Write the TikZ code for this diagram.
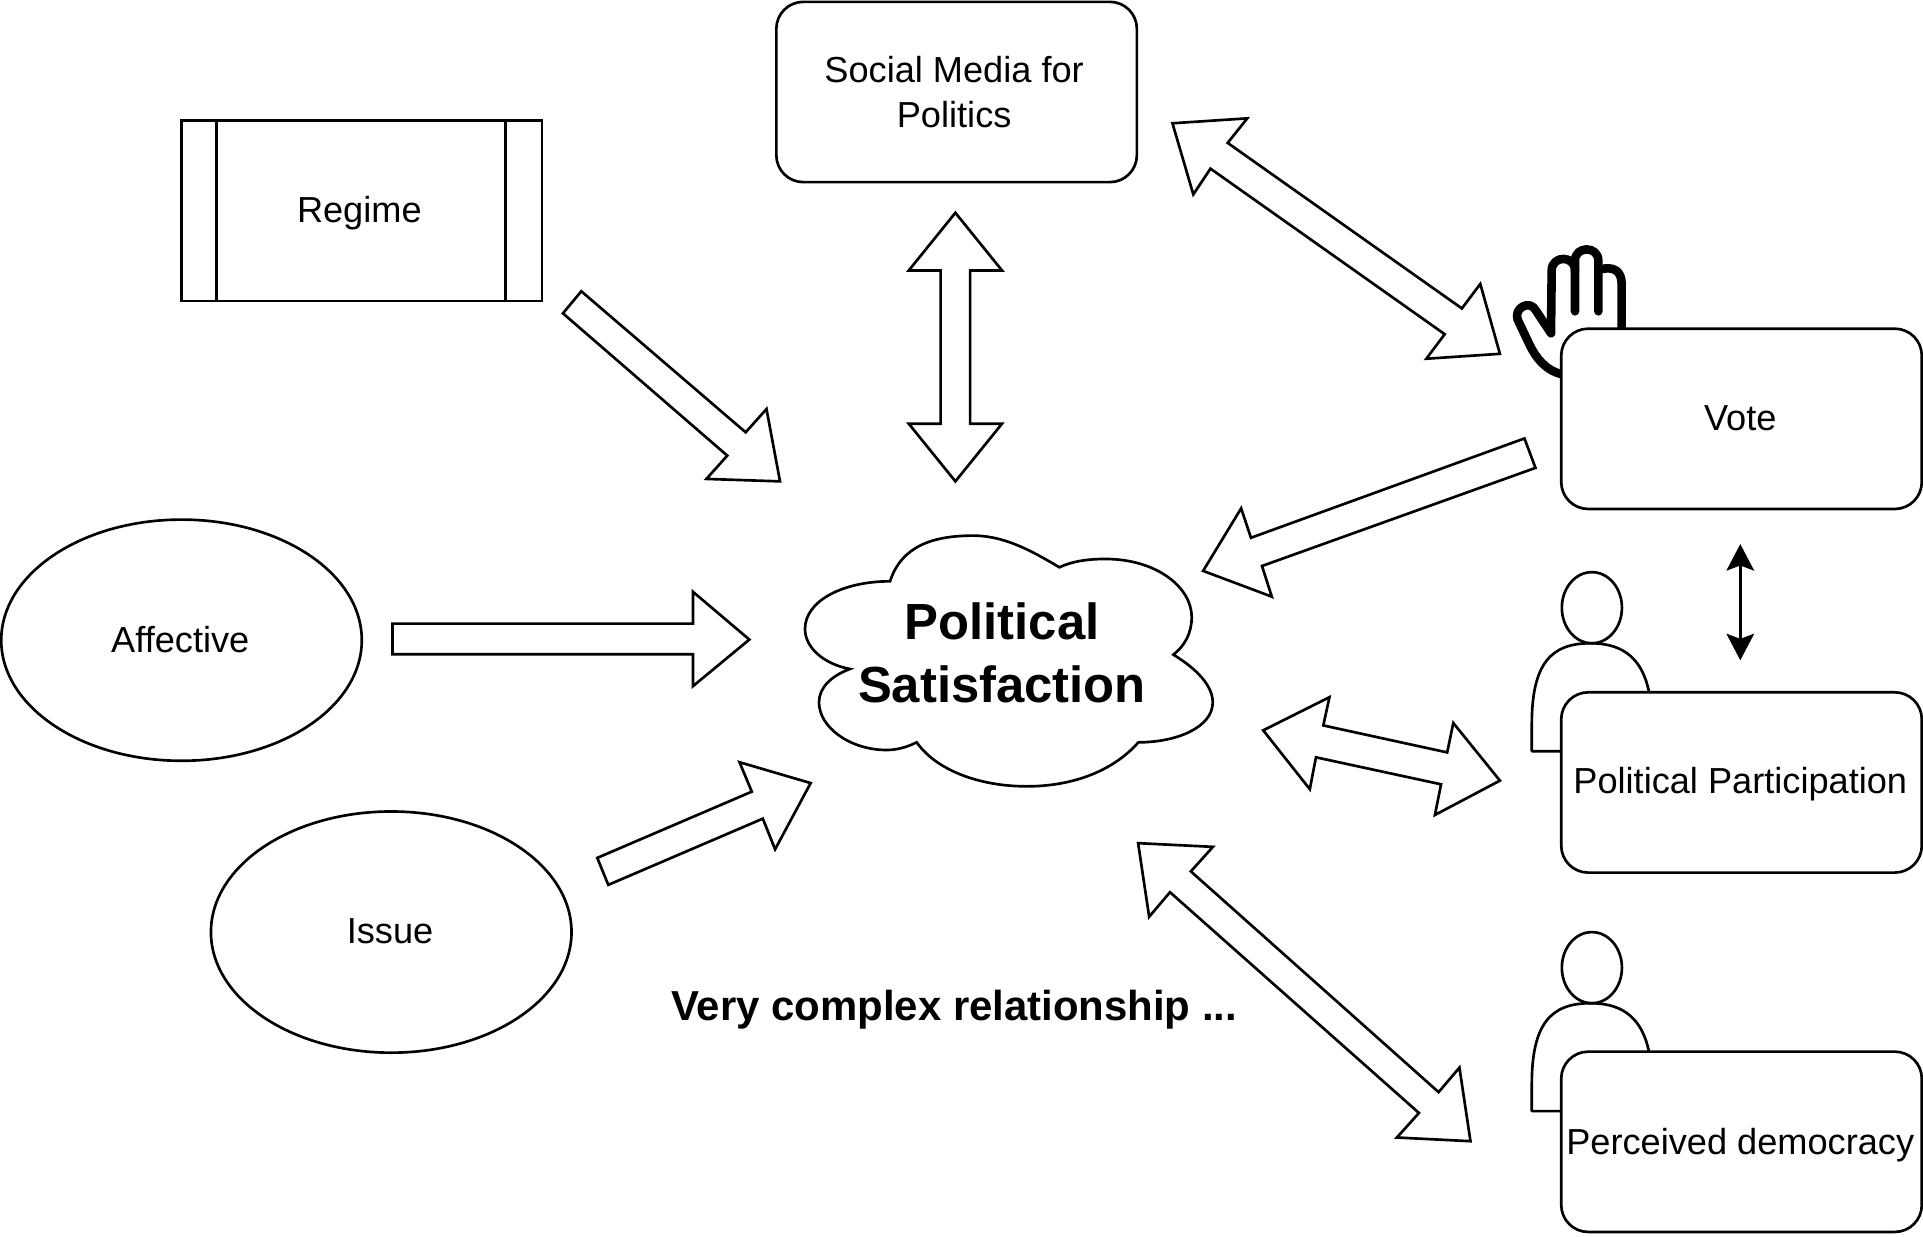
\documentclass[tikz,border=0pt]{standalone}
\usepackage{fontspec}
\setmainfont{Liberation Sans}
\usetikzlibrary{arrows.meta,shapes.geometric}
\newcommand{\lft}[1]{#1\kern1.2pt}
\tikzset{
  ln/.style={draw=black,line width=1.3pt,line join=miter},
  blockarrow/.style={ln,fill=white},
  rbox/.style={ln,fill=white,rectangle,rounded corners=13.2pt,minimum width=176.4pt,minimum height=88.2pt,inner sep=0pt,align=center,text depth=0pt,text height=11pt,font=\fontsize{17.7}{21.6}\selectfont},
  pbox/.style={rbox,rounded corners=0pt},
  oval/.style={ln,fill=white,ellipse,minimum width=176.4pt,minimum height=118pt,inner sep=0pt,text depth=0pt,text height=11pt,font=\fontsize{17.7}{21.6}\selectfont},
  big/.style={inner sep=0pt,align=center,font=\fontsize{24.85}{30.6}\selectfont\bfseries},
  note/.style={inner sep=0pt,font=\fontsize{20.5}{24}\selectfont\bfseries},
  person/.style={ln,line join=round},
  handline/.style={draw=black,line width=4.2pt,line cap=round,line join=round},
  tinyarrow/.style={draw=black,line width=1.3pt,{Stealth[length=13pt,width=13.5pt,inset=2.5pt]}-{Stealth[length=13pt,width=13.5pt,inset=2.5pt]}},
}
\begin{document}
\begin{tikzpicture}[x=0.6pt,y=-0.6pt]
\useasboundingbox (0,-0.5) rectangle (1568,1007.5);
% hand
\begin{scope}[shift={(1182.3,179.4)},x=0.1631pt,y=-0.1631pt]
\draw[handline] (340,462) .. controls (285,450) and (258,410) .. (240,375) -- (203,297) .. controls (190,262) and (240,235) .. (258,270) -- (303,338) -- (305,150) .. controls (305,103) and (375,103) .. (375,150);
\draw[handline] (375,272) -- (375,120) .. controls (375,75) and (445,75) .. (445,120) -- (445,272);
\draw[handline] (447,147) .. controls (490,135) and (515,150) .. (515,190) -- (515,340);
\end{scope}
% persons
\draw[person] (1298,495) ellipse [x radius=24.5,y radius=29];
\draw[person] (1273,612) -- (1249,612) -- (1249,590) .. controls (1249,540) and (1265,524) .. (1297,524) .. controls (1325,524) and (1340,538) .. (1345,566);
\draw[person] (1298,788.5) ellipse [x radius=24.5,y radius=29];
\draw[person] (1273,905.5) -- (1249,905.5) -- (1249,883.5) .. controls (1249,833.5) and (1265,817.5) .. (1297,817.5) .. controls (1325,817.5) and (1340,831.5) .. (1345,859.5);
% boxes
\node[rbox,text height=34.3pt] (social) at (780,74.5) {\lft{\lft{Social Media for}}\\\lft{\lft{Politics}}};
\node[pbox] (regime) at (295,171.5) {\lft{\lft{Regime}}};
\draw[ln] ([xshift=17.9pt]regime.north west) -- ([xshift=17.9pt]regime.south west);
\draw[ln] ([xshift=-18.5pt]regime.north east) -- ([xshift=-18.5pt]regime.south east);
\node[rbox] (vote) at (1420,341) {\lft{Vote}};
\node[rbox] (part) at (1420,637.5) {\lft{Political Participation}};
\node[rbox,text height=12pt] (demo) at (1420,930.5) {\lft{Perceived democracy}};
\node[oval,text height=12pt] (affective) at (148,521.5) {\lft{Affective}};
\node[oval] (issue) at (319,759.5) {\lft{Issue}};
% cloud
\begin{scope}[shift={(636,407.7)},x=0.1631pt,y=-0.1631pt]
\draw[ln,fill=white] (330,242) .. controls (365,135) and (460,105) .. (580,105) .. controls (680,105) and (770,160) .. (838,200)
 .. controls (880,180) and (930,175) .. (975,175) .. controls (1130,175) and (1235,260) .. (1235,350) .. controls (1235,395) and (1215,435) .. (1180,462)
 .. controls (1250,505) and (1298,555) .. (1298,605) .. controls (1298,680) and (1190,725) .. (1075,725)
 .. controls (1000,810) and (880,857) .. (740,857) .. controls (600,857) and (470,810) .. (410,725)
 .. controls (380,740) and (350,748) .. (320,748) .. controls (210,748) and (117,680) .. (117,605) .. controls (117,560) and (155,525) .. (210,505)
 .. controls (130,490) and (75,440) .. (75,385) .. controls (75,300) and (190,242) .. (330,242) -- cycle;
\end{scope}
\node[big] (cloudtext) at (817,532) {Political\\Satisfaction};
\node[note] (complex) at (778,823) {Very complex relationship ...};
% block arrows
\draw[blockarrow] (474,237) -- (608,352) -- (625,333) -- (636,392) -- (576,390) -- (593,371) -- (459,255) -- cycle;
\draw[blockarrow] (779,173) -- (817,220) -- (791,220) -- (791,345) -- (817,345) -- (779,392) -- (741,345) -- (767,345) -- (767,220) -- (741,220) -- cycle;
\draw[blockarrow] (956,100) -- (1017,96) -- (1001,116) -- (1192,251) -- (1207,231) -- (1223,288) -- (1163,292) -- (1178,272) -- (987,137) -- (973,158) -- cycle;
\draw[blockarrow] (1243,357) -- (1252,381) -- (1029,461) -- (1037,486) -- (981,465) -- (1012,414) -- (1020,438) -- cycle;
\draw[blockarrow] (320,508) -- (565,508) -- (565,482) -- (611,521) -- (565,559) -- (565,533) -- (320,533) -- cycle;
\draw[blockarrow] (487,699) -- (613,645) -- (603,621) -- (661,638) -- (632,692) -- (622,667) -- (496,721) -- cycle;
\draw[blockarrow] (1030,595) -- (1084,568) -- (1079,591) -- (1180,613) -- (1185,589) -- (1223,636) -- (1170,664) -- (1175,639) -- (1073,617) -- (1068,643) -- cycle;
\draw[blockarrow] (928,687) -- (989,690) -- (971,710) -- (1173,890) -- (1190,870) -- (1199,930) -- (1139,927) -- (1157,907) -- (954,727) -- (937,747) -- cycle;
% thin double arrow
\draw[tinyarrow] ([yshift=-16.5pt,xshift=-0.6pt]vote.south) -- ([yshift=15pt,xshift=-0.6pt]part.north);
\end{tikzpicture}
\end{document}
